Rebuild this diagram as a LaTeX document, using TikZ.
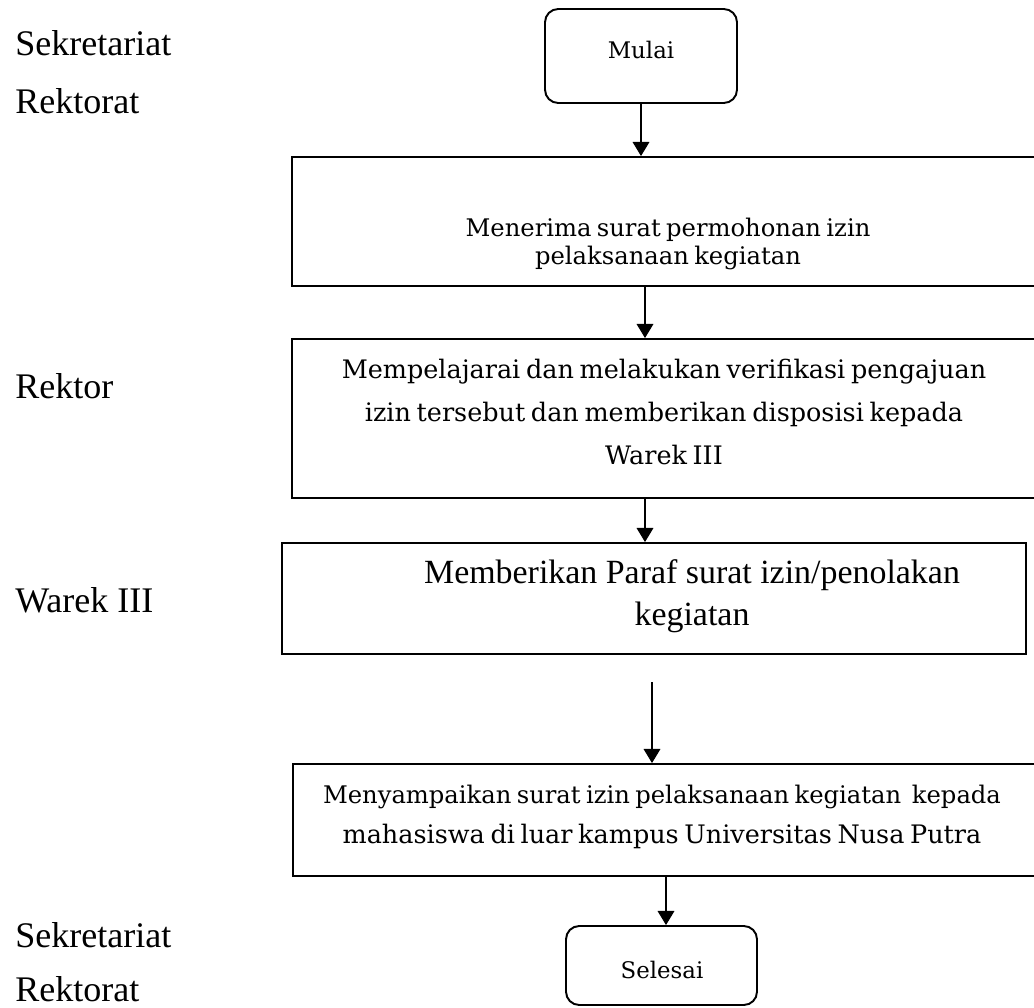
\documentclass[tikz,border=0pt]{standalone}
\usepackage{fontspec}
\usetikzlibrary{arrows.meta}
\setmainfont{Liberation Serif}
\newfontfamily\slab{DejaVu Serif}
\newfontfamily\slabtight[WordSpace=0.7]{DejaVu Serif}

\begin{document}
\begin{tikzpicture}[x=0.02cm, y=-0.02cm, >={Triangle[length=8pt,width=9.5pt]},
  box/.style={draw, line width=1.1pt, inner sep=0pt},
  term/.style={box, rounded corners=7.5pt},
  flow/.style={->, line width=0.6pt},
  lane/.style={anchor=base west, inner sep=0pt, font=\fontsize{20.5}{24}\selectfont},
  boxtext/.style={align=center, inner sep=0pt, font=\slab\fontsize{13.8}{#1}\selectfont},
  tighttext/.style={align=center, inner sep=0pt, font=\slabtight\fontsize{14.5}{#1}\selectfont}]
  \useasboundingbox (0,0) rectangle (1034,1007);
  \clip (0,0) rectangle (1034,1007);
  % units on the left
  \node[lane] (sekA) at (15,56) {Sekretariat};
  \node[lane] (rekA) at (15,113) {Rektorat};
  \node[lane] (rektor) at (15,398) {Rektor};
  \node[lane] (warek) at (15,612) {Warek III};
  \node[lane] (sekB) at (15,947) {Sekretariat};
  \node[lane] (rekB) at (15,1001) {Rektorat};
  % start and steps
  \node[term, minimum width=3.84cm, minimum height=1.88cm] (mulai) at (641,56) {};
  \node[boxtext=16, font=\slab\fontsize{13}{16}\selectfont] (mulaitxt) at (641,50) {Mulai};
  \node[box, minimum width=15.06cm, minimum height=2.58cm] (box1) at (668.5,221.5) {};
  \node[boxtext=15.9] (txt1) at (668,244) {Menerima surat permohonan izin\\pelaksanaan kegiatan};
  \node[box, minimum width=15.06cm, minimum height=3.18cm] (box2) at (668.5,418.5) {};
  \node[tighttext=24.4] (txt2) at (664,412)
    {Mempelajarai dan melakukan verifikasi pengajuan\\izin tersebut dan memberikan disposisi kepada\\Warek III};
  \node[box, minimum width=14.88cm, minimum height=2.22cm] (box3) at (654,598.5) {};
  \node[align=center, inner sep=0pt, font=\fontsize{19.3}{23.8}\selectfont] (txt3) at (692,596)
    {Memberikan Paraf surat izin/penolakan\\kegiatan};
  \node[box, minimum width=15.04cm, minimum height=2.24cm] (box4) at (669,820) {};
  \node[boxtext=23.2] (txt4) at (662,817)
    {Menyampaikan surat izin pelaksanaan kegiatan\ \ kepada\\{\slabtight\fontsize{14.5}{23.2}\selectfont mahasiswa di luar kampus Universitas Nusa Putra}};
  % end
  \node[term, minimum width=3.82cm, minimum height=1.58cm] (selesai) at (661.5,965.5) {};
  \node[boxtext=16, font=\slab\fontsize{13}{16}\selectfont] (selesaitxt) at (662,970) {Selesai};
  % arrows
  \coordinate (spine) at (645,0);
  \coordinate (gapend) at (652,682);
  \coordinate (lastx) at (666,0);
  \draw[flow] (mulai.south) -- (mulai.south |- box1.north);
  \draw[flow] (box1.south -| spine) -- (box2.north -| spine);
  \draw[flow] (box2.south -| spine) -- (box3.north -| spine);
  \draw[flow] (gapend) -- (gapend |- box4.north);
  \draw[flow] (box4.south -| lastx) -- (selesai.north -| lastx);
\end{tikzpicture}
\end{document}
